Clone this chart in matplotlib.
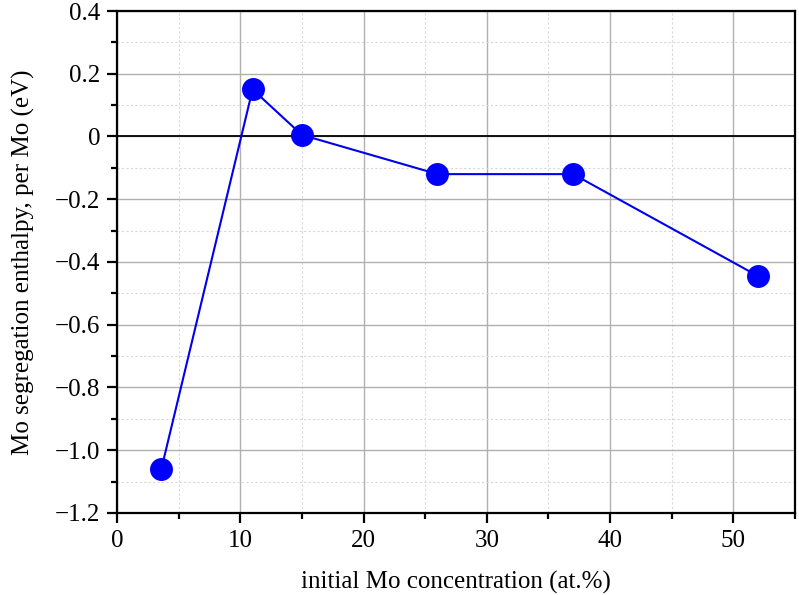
import matplotlib
matplotlib.use("Agg")
import matplotlib.pyplot as plt
from matplotlib.ticker import MultipleLocator

concentration = [3.6, 11.0, 15.0, 26.0, 37.0, 52.0]
enthalpy = [-1.06, 0.15, 0.005, -0.12, -0.12, -0.445]
xticks = [0, 10, 20, 30, 40, 50]
yticks = [0.4, 0.2, 0, -0.2, -0.4, -0.6, -0.8, -1.0, -1.2]
ytick_labels = ["0.4", "0.2", "0", "\u22120.2", "\u22120.4", "\u22120.6", "\u22120.8", "\u22121.0", "\u22121.2"]

plt.rcParams['font.family'] = ['Liberation Serif', 'DejaVu Serif']

fig = plt.figure(figsize=(7.99, 5.95), dpi=100)
ax = fig.add_axes([0.1464, 0.138, 0.8486, 0.8435])

ax.set_xlim(0, 55)
ax.set_ylim(-1.2, 0.4)
ax.set_xticks(xticks)
ax.set_yticks(yticks)
ax.set_yticklabels(ytick_labels)
ax.xaxis.set_minor_locator(MultipleLocator(5))
ax.yaxis.set_minor_locator(MultipleLocator(0.1))

ax.grid(which='major', color='#b0b0b0', linewidth=1.0, linestyle='-')
ax.grid(which='minor', color='#d8d8d8', linewidth=0.8, linestyle=(0, (2, 2)))
ax.set_axisbelow(True)

ax.axhline(0, color='black', linewidth=1.3, zorder=2)

ax.plot(concentration, enthalpy, color='#0000ee', linewidth=1.5, marker='o',
        markersize=15.5, markerfacecolor='#0000ff', markeredgecolor='#0000ff', zorder=3)

for s in ax.spines.values():
    s.set_linewidth(1.6)
ax.tick_params(which='major', direction='out', length=7, width=1.6, labelsize=18,
               pad=5, top=False, right=False)
ax.tick_params(which='minor', direction='out', length=4, width=1.6, top=False, right=False)

ax.set_xlabel('initial Mo concentration (at.%)', fontsize=18, labelpad=14)
ax.set_ylabel('Mo segregation enthalpy, per Mo (eV)', fontsize=18, labelpad=14)

fig.savefig('out.png', dpi=100)
